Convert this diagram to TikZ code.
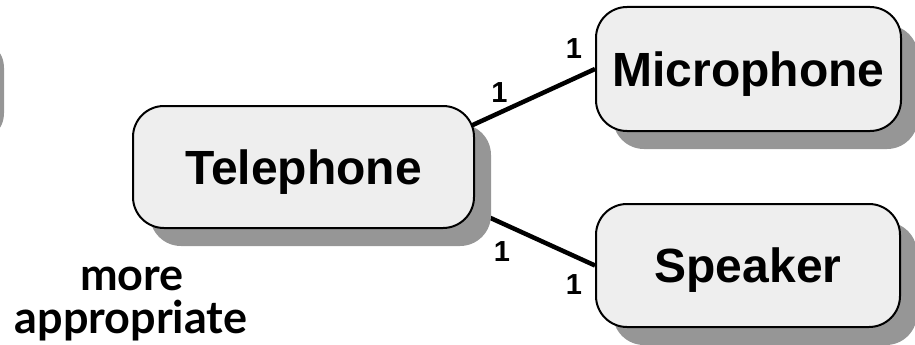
\documentclass[tikz,border=0pt]{standalone}
\usepackage{fontspec}
\setmainfont{Liberation Sans}
\newfontfamily\notefont{Lato}
\usetikzlibrary{shadows,backgrounds,calc}

\definecolor{boxfill}{RGB}{238,238,238}
\definecolor{shadowgray}{RGB}{150,150,150}

\tikzset{
  entity/.style={
    draw=black, line width=2pt, fill=boxfill,
    rounded corners=31pt, inner sep=0pt,
    text height=34pt, text depth=0pt,
    font=\fontsize{48}{48}\selectfont\bfseries,
    drop shadow={shadow xshift=17pt, shadow yshift=-18pt,
                 fill=shadowgray, opacity=1}
  },
  link/.style={line width=4.5pt, draw=black},
  mult/.style={font=\fontsize{29}{29}\selectfont\bfseries, inner sep=0pt},
  note/.style={font=\notefont\fontsize{45}{45}\selectfont\bfseries,
               align=center, inner sep=0pt}
}

\begin{document}
\begin{tikzpicture}[x=1pt, y=-1pt]
  \useasboundingbox (0,0) rectangle (915,345);

  % shadow of an entity box lying just off the left edge
  \fill[shadowgray, rounded corners=30pt] (-300,38) rectangle (4,143);

  % entities
  \node[entity, minimum width=341pt, minimum height=122pt] (tel) at (303.5,167) {Telephone};
  \node[entity, minimum width=305pt, minimum height=124pt] (mic) at (748.5,69) {Microphone};
  \node[entity, minimum width=304pt, minimum height=123pt] (spk) at (748,265.5) {Speaker};

  % relationship lines, kept under the boxes and their shadows
  \coordinate (telN) at ($(tel.center)+(136.5,-27)$);
  \coordinate (telS) at ($(tel.center)+(136.5,28)$);
  \begin{scope}[on background layer]
    \draw[link] (telN) -- (mic.west);
    \draw[link] (telS) -- (spk.west);
  \end{scope}

  % multiplicities
  \node[mult] (m1) at (499.5,92.5) {1};
  \node[mult] (m2) at (574,49) {1};
  \node[mult] (m3) at (502,252) {1};
  \node[mult] (m4) at (574,285) {1};

  % side note
  \node[note, anchor=base] (more) at (132,290) {more};
  \node[note, anchor=base] (appr) at (131,333) {appropriate};
\end{tikzpicture}
\end{document}
